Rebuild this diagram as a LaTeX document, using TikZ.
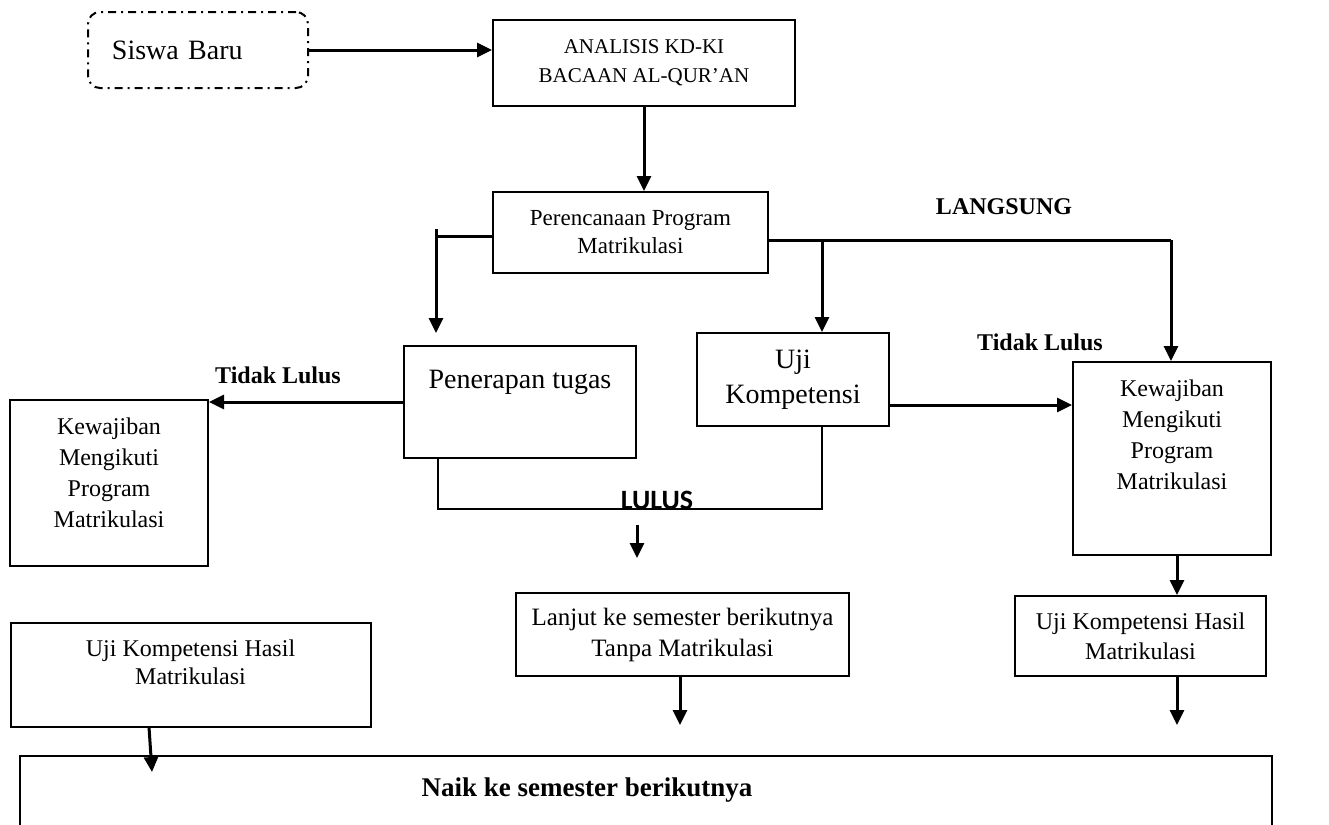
\documentclass[tikz,border=0pt]{standalone}
\usepackage{fontspec}
\setmainfont{Liberation Serif}
\newfontfamily\lulusfont{Carlito}
\usetikzlibrary{arrows.meta,positioning}

\begin{document}
\begin{tikzpicture}[x=0.5pt, y=-0.5pt,
		>={Triangle[length=7.5pt,width=7pt]},
		box/.style={draw, line width=1pt, inner sep=0pt, align=center, font=\fontsize{12}{15.5}\selectfont},
		toptext/.style={anchor=north, inner sep=0pt, align=center, font=\fontsize{12}{15.5}\selectfont},
		flow/.style={line width=1.5pt},
		tag/.style={inner sep=0pt, font=\bfseries\fontsize{12}{14}\selectfont}]
	
	\useasboundingbox (0,0) rectangle (1329,825);
	\clip (0,0) rectangle (1329,825);
	
	\node[box, dash pattern=on 4pt off 2.5pt on 1pt off 2.5pt, rounded corners=6pt, minimum width=110pt, minimum height=38pt,
	text width=86pt, align=left, font=\fontsize{14}{16}\selectfont] (siswa) at (198,50) {Siswa Baru};
	\node[box, minimum width=151pt, minimum height=43pt, font=\fontsize{10.5}{14.5}\selectfont]
	(analisis) at (644,63) {ANALISIS KD-KI\\BACAAN AL-QUR’AN};
	\node[box, minimum width=137.5pt, minimum height=40.5pt, font=\fontsize{11.5}{14}\selectfont]
	(perenc) at (630.5,232.5) {Perencanaan Program\\Matrikulasi};
	\node[box, minimum width=116pt, minimum height=56pt,
	label={[toptext, yshift=-12.5pt, font=\fontsize{14}{16}\selectfont]north:Penerapan tugas}]
	(terap) at (520,402) {};
	\node[box, minimum width=96pt, minimum height=46.5pt, font=\fontsize{14}{17.5}\selectfont]
	(uji) at (793,379.5) {Uji\\Kompetensi};
	\node[box, minimum width=99pt, minimum height=83pt,
	label={[toptext, yshift=-9pt]north:{Kewajiban\\Mengikuti\\Program\\Matrikulasi}}]
	(wajibL) at (109,483) {};
	\node[box, minimum width=99pt, minimum height=96.5pt,
	label={[toptext, yshift=-9pt]north:{Kewajiban\\Mengikuti\\Program\\Matrikulasi}}]
	(wajibR) at (1172,458.5) {};
	\node[box, minimum width=166.5pt, minimum height=41.5pt, font=\fontsize{12.5}{15.5}\selectfont]
	(lanjut) at (682.5,634.5) {Lanjut ke semester berikutnya\\Tanpa Matrikulasi};
	\node[box, minimum width=125.5pt, minimum height=40pt, font=\fontsize{12}{15}\selectfont]
	(hasilR) at (1140.5,636) {Uji Kompetensi Hasil\\Matrikulasi};
	\node[box, minimum width=180pt, minimum height=52pt,
	label={[toptext, yshift=-8.5pt, font=\fontsize{12}{14}\selectfont]north:{Uji Kompetensi Hasil\\Matrikulasi}}]
	(hasilL) at (190.5,675) {};
	\node[box, minimum width=626pt, minimum height=50pt,
	label={[toptext, xshift=-29.5pt, yshift=-11pt, font=\bfseries\fontsize{13.5}{15}\selectfont]north:Naik ke semester berikutnya}]
	(naik) at (646,806) {};
	
	\node[tag] (langsung) at (1004,207) {LANGSUNG};
	\node[tag] (tidakL) at (278,375) {Tidak Lulus};
	\node[tag] (tidakR) at (1040,342) {Tidak Lulus};
	
	\coordinate (kiriA) at (436,236);
	\coordinate (kiriB) at (436,229);
	\coordinate (kiriC) at (436,333);
	\coordinate (kananA) at (1171,240);
	\coordinate (tengahA) at (822,240);
	\coordinate (lulusA) at (438,509);
	\coordinate (lulusB) at (822,509);
	\coordinate (lulusC) at (637,525);
	\coordinate (lulusD) at (637,558);
	\coordinate (lanjutE) at (680,725);
	\coordinate (hasilRE) at (1177,725);
	\coordinate (hasilLA) at (149,727);
	\coordinate (hasilLE) at (152,772);
	
	\draw[flow, ->] (siswa.east) -- (siswa.east -| analisis.west);
	\draw[flow, ->] (analisis.south) -- (analisis.south |- perenc.north);
	\draw[flow] (perenc.west |- kiriA) -- (kiriA);
	\draw[flow, ->] (kiriB) -- (kiriC);
	\draw[flow] (perenc.east |- kananA) -- (kananA);
	\draw[flow, ->] (kananA) -- (kananA |- wajibR.north);
	\draw[flow, ->] (tengahA) -- (tengahA |- uji.north);
	\draw[flow, ->] (terap.west) -- (terap.west -| wajibL.east);
	\draw[flow, ->] ([yshift=-12.75pt]uji.east) -- ([yshift=-12.75pt]uji.east -| wajibR.west);
	
	\draw[line width=1.2pt] (lulusA |- terap.south) -- (lulusA) -- (lulusB) -- (uji.south -| lulusB);
	\node[inner sep=0pt, anchor=base, font=\lulusfont\bfseries\fontsize{14}{16}\selectfont]
	(lulus) at (657,509) {LULUS};
	\draw[flow, ->] (lulusC) -- (lulusD);
	
	\draw[flow, ->] (lanjut.south -| lanjutE) -- (lanjutE);
	\draw[flow, ->] (wajibR.south -| hasilRE) -- (hasilR.north -| hasilRE);
	\draw[flow, ->] (hasilR.south -| hasilRE) -- (hasilRE);
	\draw[flow, ->] (hasilLA) -- (hasilLE);
	
\end{tikzpicture}
\end{document}
